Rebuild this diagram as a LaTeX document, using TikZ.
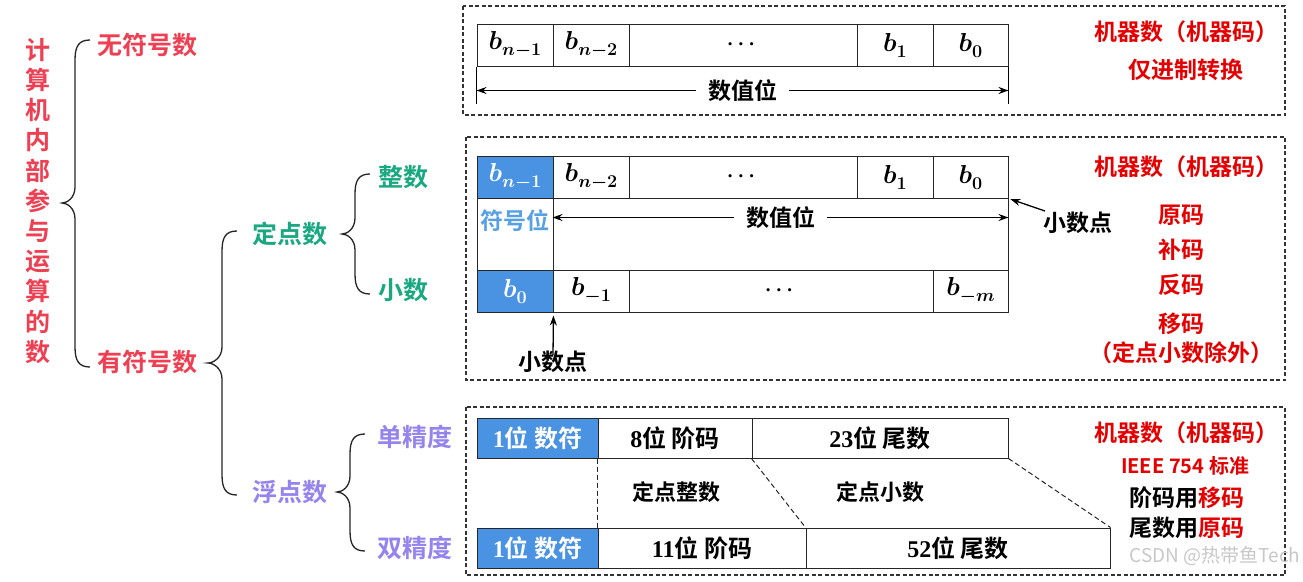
\RequirePackage{fix-cm}
\documentclass[tikz,border=0pt]{standalone}
\usepackage{amsmath,bm}
\usepackage[no-math]{fontspec}
\setmainfont{Noto Sans CJK SC}[BoldFont=* Bold]
\newfontfamily\numf{Liberation Serif}
\usetikzlibrary{arrows.meta}
\definecolor{tred}{RGB}{238,64,82}
\definecolor{rred}{RGB}{228,0,0}
\definecolor{tgreen}{RGB}{26,168,130}
\definecolor{tpurple}{RGB}{150,132,238}
\definecolor{cblue}{RGB}{74,146,226}
\definecolor{sblue}{RGB}{88,160,228}
\definecolor{wmark}{RGB}{200,200,200}
\newcommand\bb[1]{{\boldmath$b$\raisebox{-6pt}{\fontsize{18}{20}\selectfont\boldmath$#1$}}}
\newcommand\dotsx{{\fontsize{21}{24}\selectfont\boldmath$\cdots$}}
\newcommand\cbrace[6]{\draw[brc] (#1,#2) .. controls (#4+4,#2) and (#4,#2+6) .. (#4,#2+20) -- (#4,#6-16) .. controls (#4,#6-5) and (#5+5,#6) .. (#5,#6) .. controls (#5+5,#6) and (#4,#6+5) .. (#4,#6+16) -- (#4,#3-20) .. controls (#4,#3-6) and (#4+4,#3) .. (#1,#3);}
\begin{document}
\begin{tikzpicture}[x=1pt,y=-1pt,
  cell/.style={draw=black!85, line width=1pt, minimum height=42pt, inner sep=0pt, fill=white, font=\fontsize{26}{30}\selectfont},
  bcell/.style={cell, fill=cblue, text=white},
  dbox/.style={draw=black!80, dash pattern=on 4pt off 2.5pt, line width=1.1pt},
  dline/.style={draw=black!85, dash pattern=on 5pt off 3pt, line width=1pt},
  txt/.style={font=\bfseries\fontsize{23}{28}\selectfont, inner sep=0pt},
  big/.style={font=\bfseries\fontsize{25}{30.2}\selectfont, inner sep=0pt, align=center},
  brc/.style={draw=black!85, line width=1.3pt},
  arr/.style={draw=black, line width=1.3pt, arrows={-Stealth[length=10pt,width=7pt]}},
  darr/.style={draw=black, line width=1.3pt, arrows={Stealth[length=10pt,width=7pt]-Stealth[length=10pt,width=7pt]}},
  gap/.style={fill=white, inner xsep=12pt, inner ysep=2pt, font=\bfseries\fontsize{23}{28}\selectfont}
]
\useasboundingbox (0,0) rectangle (1303,581);
\fill[white] (0,0) rectangle (1303,581);

% ---------- tree ----------
\node[big, text=tred] (root) at (38,201) {计\\算\\机\\内\\部\\参\\与\\运\\算\\的\\数};
\node[big, text=tred] (uns) at (147,45) {无符号数};
\node[big, text=tred] (sgn) at (147,362) {有符号数};
\node[big, text=tgreen] (fix) at (290,234) {定点数};
\node[big, text=tpurple] (flt) at (290,492) {浮点数};
\node[big, text=tgreen] (int) at (403,177) {整数};
\node[big, text=tgreen] (frac) at (403,290) {小数};
\node[big, text=tpurple] (sp) at (415,437) {单精度};
\node[big, text=tpurple] (dp) at (415,548) {双精度};
\cbrace{90}{40}{367}{75}{62}{203}
\cbrace{237}{231}{495}{222}{208}{363}
\cbrace{370}{174}{294}{355}{342}{234}
\cbrace{365}{434}{551}{350}{337}{492}

% ---------- top box ----------
\draw[dbox] (463,6) rectangle (1285,115);
\node[cell, minimum width=76pt] (t1) at (515,45) {\bb{n{-}1}};
\node[cell, minimum width=76pt] (t2) at (591,45) {\bb{n{-}2}};
\node[cell, minimum width=228pt] (t3) at (743,45) {\dotsx};
\node[cell, minimum width=76pt] (t4) at (895,45) {\bb{1}};
\node[cell, minimum width=75pt] (t5) at (970.5,45) {\bb{0}};
\draw[line width=1pt] (t1.south west) -- ++(0,37);
\draw[line width=1pt] (t5.south east) -- ++(0,37);
\draw[darr] ([yshift=-24pt]t1.south west) -- node[gap] {数值位} ([yshift=-24pt]t5.south east);
\node[txt, text=rred] (r1a) at (1186,32) {机器数（机器码）};
\node[txt, text=rred] (r1b) at (1186,70) {仅进制转换};

% ---------- middle box ----------
\draw[dbox] (466,137) rectangle (1285,380);
\node[cell, minimum width=76pt, minimum height=72pt] (ms) at (515,234) {};
\node[cell, minimum width=455pt, minimum height=72pt] (mv) at (780.5,234) {};
\node[bcell, minimum width=76pt] (m1) at (515,177) {\bb{n{-}1}};
\node[cell, minimum width=76pt] (m2) at (591,177) {\bb{n{-}2}};
\node[cell, minimum width=228pt] (m3) at (743,177) {\dotsx};
\node[cell, minimum width=76pt] (m4) at (895,177) {\bb{1}};
\node[cell, minimum width=75pt] (m5) at (970.5,177) {\bb{0}};
\node[bcell, minimum width=76pt] (m6) at (515,291) {\bb{0}};
\node[cell, minimum width=76pt] (m7) at (591,291) {\bb{-1}};
\node[cell, minimum width=304pt] (m8) at (781,291) {\dotsx};
\node[cell, minimum width=75pt] (m9) at (970.5,291) {\bb{-m}};
\node[txt, text=sblue] (sb) at (515,221) {符号位};
\draw[darr] ([yshift=-20pt]mv.north west) -- node[gap] {数值位} ([yshift=-20pt]mv.north east);
\node[txt] (pt1) at (1078,223) {小数点};
\draw[arr, shorten >=2pt] (1045,211) -- (m5.south east);
\node[txt] (pt2) at (553,362) {小数点};
\draw[arr, shorten >=3pt] ([yshift=-4pt]pt2.north) -- (m6.south east);
\node[txt, text=rred] (r2a) at (1186,167) {机器数（机器码）};
\node[txt, text=rred] (r2b) at (1181,215) {原码};
\node[txt, text=rred] (r2c) at (1181,250) {补码};
\node[txt, text=rred] (r2d) at (1181,285) {反码};
\node[txt, text=rred] (r2e) at (1181,324) {移码};
\node[txt, text=rred] (r2f) at (1181,353) {（定点小数除外）};

% ---------- bottom box ----------
\draw[dbox] (466,407) rectangle (1285,575);
\node[bcell, minimum width=121pt, minimum height=40pt, font=\fontsize{24}{28}\selectfont] (s1) at (537.5,438) {\bfseries{\numf 1}位 数符};
\node[cell, minimum width=154pt, minimum height=40pt, font=\fontsize{24}{28}\selectfont] (s2) at (675,438) {\bfseries{\numf 8}位 阶码};
\node[cell, minimum width=256pt, minimum height=40pt, font=\fontsize{24}{28}\selectfont] (s3) at (880,438) {\bfseries{\numf 23}位 尾数};
\node[bcell, minimum width=121pt, minimum height=40pt, font=\fontsize{24}{28}\selectfont] (d1) at (537.5,548) {\bfseries{\numf 1}位 数符};
\node[cell, minimum width=208pt, minimum height=40pt, font=\fontsize{24}{28}\selectfont] (d2) at (702,548) {\bfseries{\numf 11}位 阶码};
\node[cell, minimum width=304pt, minimum height=40pt, font=\fontsize{24}{28}\selectfont] (d3) at (958,548) {\bfseries{\numf 52}位 尾数};
\draw[dline] (s2.south west) -- (d2.north west);
\draw[dline] (s3.south west) -- (d3.north west);
\draw[dline] (s3.south east) -- (d3.north east);
\node[txt, font=\bfseries\fontsize{22}{26}\selectfont] (fi) at (676,492) {定点整数};
\node[txt, font=\bfseries\fontsize{22}{26}\selectfont] (ff) at (880,492) {定点小数};
\node[txt, text=rred] (r3a) at (1186,433) {机器数（机器码）};
\node[txt, text=rred, font=\bfseries\fontsize{20}{24}\selectfont] (r3b) at (1185,466) {IEEE 754 标准};
\node[txt] (r3c) at (1187,498) {阶码用\textcolor{rred}{移码}};
\node[txt] (r3d) at (1187,528) {尾数用\textcolor{rred}{原码}};
\node[text=wmark, font=\fontsize{19}{22}\selectfont, inner sep=0pt] (wm) at (1215,556) {CSDN @热带鱼Tech};
\end{tikzpicture}
\end{document}
